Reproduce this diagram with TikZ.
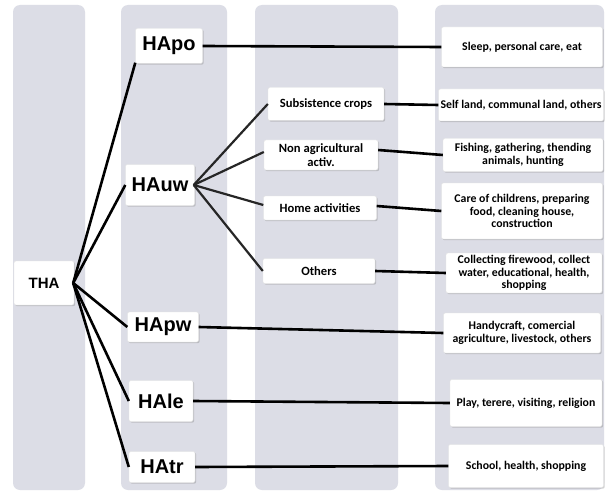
\documentclass[tikz,border=0pt]{standalone}
\usepackage{fontspec}
\setmainfont{Carlito}
\newfontfamily\arialb{Liberation Sans}
\usetikzlibrary{shadows}
\definecolor{colbg}{RGB}{220,221,230}
\tikzset{
  column/.style={fill=colbg, draw=none, rounded corners=7pt},
  boxbase/.style={fill=white, draw=white!90!black, line width=0.4pt, rounded corners=2pt, inner sep=1pt, align=center,
    drop shadow={opacity=0.35, shadow xshift=1.2pt, shadow yshift=-1.2pt}},
  habox/.style={boxbase, minimum height=32pt, font=\arialb\bfseries\fontsize{20}{22}\selectfont},
  thabox/.style={boxbase, font=\arialb\bfseries\fontsize{15}{17}\selectfont},
  subbox/.style={boxbase, font=\bfseries\fontsize{12.6}{14}\selectfont},
  descbox/.style={boxbase, font=\bfseries\fontsize{11.8}{12.7}\selectfont},
  link/.style={draw=black, line width=2.6pt},
  thin link/.style={draw=black!85, line width=2.2pt}
}
\begin{document}
\begin{tikzpicture}[x=1pt,y=-1pt]
\path[fill=white] (0,0) rectangle (605,492);
\useasboundingbox (0,0) rectangle (605,492);
% columns
\path[column] (13,5) rectangle (85,490);
\path[column] (121,5) rectangle (227,490);
\path[column] (255,5) rectangle (398,490);
\path[column] (435,5) rectangle (604,490);
% level 1
\node[thabox, minimum width=60pt, minimum height=44pt] (tha) at (44,283) {THA};
% level 2
\node[habox, minimum width=67pt, minimum height=35pt] (hapo) at (169,46) {HApo};
\node[habox, minimum width=69pt, minimum height=41pt] (hauw) at (160,185) {HAuw};
\node[habox, minimum width=71pt, minimum height=30pt] (hapw) at (163,327) {HApw};
\node[habox, minimum width=64pt, minimum height=41pt] (hale) at (161,401) {HAle};
\node[habox, minimum width=66pt, minimum height=31pt] (hatr) at (162,467) {HAtr};
% level 3
\node[subbox, minimum width=116pt, minimum height=33pt] (subs) at (326,104) {Subsistence crops};
\node[subbox, minimum width=114pt, minimum height=30pt] (nonag) at (321,155) {Non agricultural\\activ.};
\node[subbox, minimum width=113pt, minimum height=24pt] (home) at (320,208) {Home activities};
\node[subbox, minimum width=112pt, minimum height=25pt] (oth) at (319,271) {Others};
% level 4
\node[descbox, minimum width=161pt, minimum height=40pt] (sleep) at (522,47) {Sleep, personal care, eat};
\node[descbox, minimum width=165pt, minimum height=32pt, inner sep=0pt] (self) at (521,105) {Self land, communal land, others};
\node[descbox, minimum width=160pt, minimum height=33pt] (fish) at (523,155) {Fishing, gathering, thending\\animals, hunting};
\node[descbox, minimum width=161pt, minimum height=56pt] (care) at (522,211) {Care of childrens, preparing\\food, cleaning house,\\construction};
\node[descbox, minimum width=156pt, minimum height=40pt] (coll) at (524,273) {Collecting firewood, collect\\water, educational, health,\\shopping};
\node[descbox, minimum width=157pt, minimum height=40pt] (hand) at (522,333) {Handycraft, comercial\\agriculture, livestock, others};
\node[descbox, minimum width=152pt, minimum height=47pt] (play) at (526,403) {Play, terere, visiting, religion};
\node[descbox, minimum width=155pt, minimum height=43pt] (school) at (526,466) {School, health, shopping};
% connectors THA -> HA
\coordinate (thaR) at ([xshift=-1pt]tha.east);
\draw[link] (thaR) -- ([yshift=1pt]hapo.south west);
\draw[link] (thaR) -- (hauw.west);
\draw[link] (thaR) -- (hapw.west);
\draw[link] (thaR) -- (hale.west);
\draw[link] (thaR) -- (hatr.west);
% HAuw fan
\coordinate (hauwR) at ([xshift=-1pt]hauw.east);
\draw[thin link] (hauwR) -- (subs.west);
\draw[thin link] (hauwR) -- ([yshift=3pt]nonag.west);
\draw[thin link] (hauwR) -- ([yshift=3pt]home.west);
\draw[thin link] (hauwR) -- (oth.west);
% to descriptions
\draw[link] (hapo.east) -- (sleep.west);
\draw[link] (subs.east) -- (self.west);
\draw[link] ([yshift=5pt]nonag.east) -- (fish.west);
\draw[link] ([yshift=2pt]home.east) -- (care.west);
\draw[link] (oth.east) -- (coll.west);
\draw[link] (hapw.east) -- (hand.west);
\draw[link] (hale.east) -- (play.west);
\draw[link] (hatr.east) -- (school.west);
\end{tikzpicture}
\end{document}
